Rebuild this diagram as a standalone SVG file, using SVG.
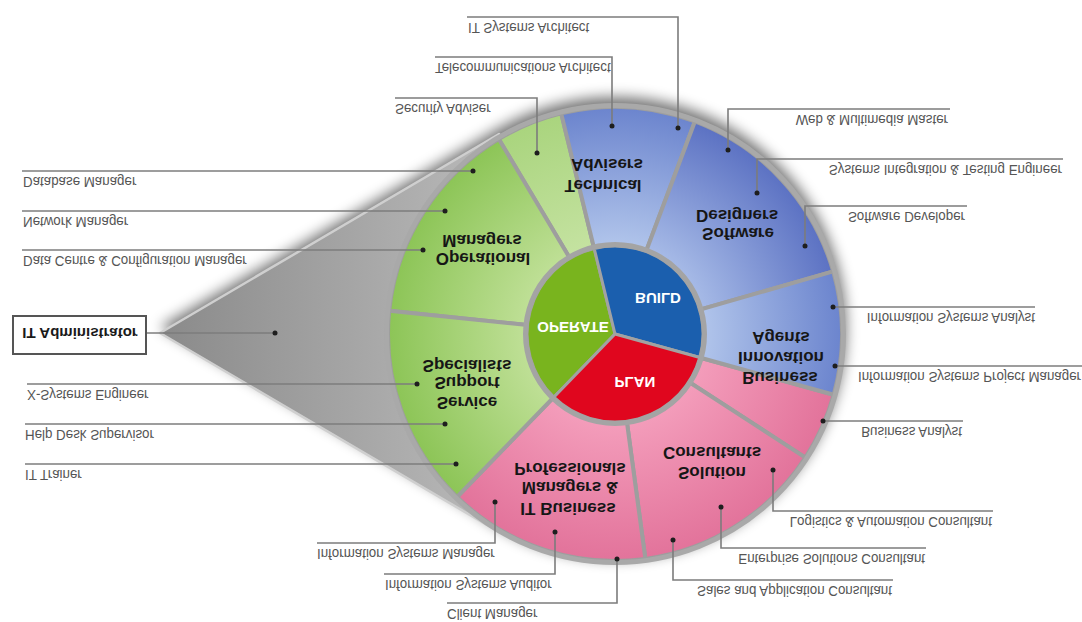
<svg xmlns="http://www.w3.org/2000/svg" width="1082" height="622" viewBox="0 0 1082 622">
  <style>
    .lbl { font-family: "Liberation Sans", Arial, sans-serif; font-size: 14.5px; fill: #555555; }
    .end { text-anchor: end; }
    .seg { font-family: "Liberation Sans", Arial, sans-serif; font-size: 17px; font-weight: bold; fill: #161616; text-anchor: middle; }
    .core { font-family: "Liberation Sans", Arial, sans-serif; font-size: 15px; font-weight: bold; fill: #ffffff; text-anchor: middle; }
    .boxt { font-family: "Liberation Sans", Arial, sans-serif; font-size: 15px; font-weight: bold; fill: #1a1a1a; text-anchor: middle; }
    .lead { stroke: #7c7c7c; stroke-width: 1.6; fill: none; }
    .dot { fill: #1e1e1e; }
    .sector { stroke: #9e9e9e; stroke-width: 4; stroke-linejoin: round; }
    .inner { stroke: #a2a2a2; stroke-width: 3; stroke-linejoin: round; }
  </style>
  <defs>
    <filter id="soft" x="-20%" y="-20%" width="140%" height="140%">
      <feGaussianBlur stdDeviation="7"/>
    </filter>
    <linearGradient id="coneGrad" gradientUnits="userSpaceOnUse" x1="160" y1="0" x2="520" y2="0">
      <stop offset="0" stop-color="#8a8a8a"/>
      <stop offset="1" stop-color="#bdbdbd"/>
    </linearGradient>
    <radialGradient id="green" gradientUnits="userSpaceOnUse" cx="615" cy="334" r="230">
      <stop offset="0.4" stop-color="#bedf95"/>
      <stop offset="1" stop-color="#8bc455"/>
    </radialGradient>
    <radialGradient id="lime" gradientUnits="userSpaceOnUse" cx="615" cy="334" r="230">
      <stop offset="0.4" stop-color="#c4e2a0"/>
      <stop offset="1" stop-color="#a9d47d"/>
    </radialGradient>
    <radialGradient id="blue" gradientUnits="userSpaceOnUse" cx="615" cy="334" r="230">
      <stop offset="0.4" stop-color="#afc3ea"/>
      <stop offset="1" stop-color="#6a83cd"/>
    </radialGradient>
    <radialGradient id="blueDeep" gradientUnits="userSpaceOnUse" cx="615" cy="334" r="230">
      <stop offset="0.4" stop-color="#a5b9e6"/>
      <stop offset="1" stop-color="#5a70c2"/>
    </radialGradient>
    <radialGradient id="pink" gradientUnits="userSpaceOnUse" cx="615" cy="334" r="230">
      <stop offset="0.4" stop-color="#f39cba"/>
      <stop offset="1" stop-color="#e2729a"/>
    </radialGradient>
  </defs>

  <rect width="1082" height="622" fill="#ffffff"/>

  <!-- soft shadow behind wheel and cone -->
  <g transform="translate(0,-6)" filter="url(#soft)" opacity="0.55">
    <polygon points="160,333 499,134 615,334 499,532" fill="#000"/>
    <circle cx="615" cy="334" r="231" fill="#000"/>
  </g>

  <!-- grey cone joining the administrator box to the wheel -->
  <g id="cone">
    <polygon points="160,333 499,134 615,334 499,532" fill="url(#coneGrad)" stroke="#cfcfcf" stroke-width="2.5" stroke-linejoin="round"/>
  </g>

  <!-- outer ring segments (text of each segment drawn over its neighbours) -->
  <g id="security-slice">
    <path class="sector" fill="url(#lime)" d="M615 334 L498.8 139 A227 227 0 0 1 561.2 113.4 Z"/>
  </g>
  <g id="business-analyst-slice">
    <path class="sector" fill="url(#pink)" d="M615 334 L833.7 394.7 A227 227 0 0 1 805.4 457.6 Z"/>
  </g>
  <g id="operational-managers">
    <path class="sector" fill="url(#green)" d="M615 334 L389.2 310.7 A227 227 0 0 1 498.8 139 Z"/>
    <text class="seg" transform="translate(482,235) scale(1,-1)">Managers</text>
    <text class="seg" transform="translate(483,253) scale(1,-1)">Operational</text>
  </g>
  <g id="technical-advisers">
    <path class="sector" fill="url(#blue)" d="M615 334 L561.2 113.4 A227 227 0 0 1 694.9 121.5 Z"/>
    <text class="seg" transform="translate(607,159) scale(1,-1)">Advisers</text>
    <text class="seg" transform="translate(603,180) scale(1,-1)">Technical</text>
  </g>
  <g id="software-designers">
    <path class="sector" fill="url(#blueDeep)" d="M615 334 L694.9 121.5 A227 227 0 0 1 833.2 271.4 Z"/>
    <text class="seg" transform="translate(737,210) scale(1,-1)">Designers</text>
    <text class="seg" transform="translate(738,228) scale(1,-1)">Software</text>
  </g>
  <g id="business-innovation-agents">
    <path class="sector" fill="url(#blue)" d="M615 334 L833.2 271.4 A227 227 0 0 1 833.7 394.7 Z"/>
    <text class="seg" transform="translate(781,332) scale(1,-1)">Agents</text>
    <text class="seg" transform="translate(781,352) scale(1,-1)">Innovation</text>
    <text class="seg" transform="translate(780,372) scale(1,-1)">Business</text>
  </g>
  <g id="solution-consultants">
    <path class="sector" fill="url(#pink)" d="M615 334 L805.4 457.6 A227 227 0 0 1 645.4 559 Z"/>
    <text class="seg" transform="translate(712,447) scale(1,-1)">Consultants</text>
    <text class="seg" transform="translate(712,467) scale(1,-1)">Solution</text>
  </g>
  <g id="it-business-managers">
    <path class="sector" fill="url(#pink)" d="M615 334 L645.4 559 A227 227 0 0 1 457 497 Z"/>
    <text class="seg" transform="translate(570,463) scale(1,-1)">Professionals</text>
    <text class="seg" transform="translate(570,482) scale(1,-1)">Managers &amp;</text>
    <text class="seg" transform="translate(568,503) scale(1,-1)">IT Business</text>
  </g>
  <g id="service-support-specialists">
    <path class="sector" fill="url(#green)" d="M615 334 L457 497 A227 227 0 0 1 389.2 310.7 Z"/>
    <text class="seg" transform="translate(467,360) scale(1,-1)">Specialists</text>
    <text class="seg" transform="translate(467,377) scale(1,-1)">Support</text>
    <text class="seg" transform="translate(467,397) scale(1,-1)">Service</text>
  </g>

  <!-- rim of the wheel -->
  <circle cx="615" cy="334" r="228.5" fill="none" stroke="#a9a9a9" stroke-width="5"/>

  <!-- core: operate / build / plan -->
  <g id="operate">
    <path class="inner" fill="#79b41e" d="M615 334 L553.8 397.2 A88 88 0 0 1 594.2 248.5 Z"/>
    <text class="core" transform="translate(573,322) scale(1,-1)">OPERATE</text>
  </g>
  <g id="build">
    <path class="inner" fill="#1b5fae" d="M615 334 L594.2 248.5 A88 88 0 0 1 699.8 357.5 Z"/>
    <text class="core" transform="translate(658,293) scale(1,-1)">BUILD</text>
  </g>
  <g id="plan">
    <path class="inner" fill="#e0061e" d="M615 334 L699.8 357.5 A88 88 0 0 1 553.8 397.2 Z"/>
    <text class="core" transform="translate(635,377) scale(1,-1)">PLAN</text>
  </g>
  <circle cx="615" cy="334" r="89.5" fill="none" stroke="#a4a4a4" stroke-width="5"/>

  <!-- leader lines -->
  <g id="connectors">
    <line class="lead" x1="146" y1="333" x2="275" y2="333"/>
    <polyline class="lead" points="22,171 473,171"/>
    <polyline class="lead" points="22,211 445,211"/>
    <polyline class="lead" points="22,250 423,250"/>
    <polyline class="lead" points="27,384 417,384"/>
    <polyline class="lead" points="25,424 445,424"/>
    <polyline class="lead" points="25,464 456,464"/>
    <polyline class="lead" points="395,98 537,98 537,153"/>
    <polyline class="lead" points="435,57 612,57 612,126"/>
    <polyline class="lead" points="467,17 678,17 678,128"/>
    <polyline class="lead" points="950,109 728,109 728,150"/>
    <polyline class="lead" points="1063,159 757,159 757,193"/>
    <polyline class="lead" points="967,206 805,206 805,246"/>
    <polyline class="lead" points="833,307 1035,307"/>
    <polyline class="lead" points="835,366 1082,366"/>
    <polyline class="lead" points="823,421 963,421"/>
    <polyline class="lead" points="773,470 773,511 993,511"/>
    <polyline class="lead" points="721,507 721,548 926,548"/>
    <polyline class="lead" points="673,540 673,580 893,580"/>
    <polyline class="lead" points="495,502 495,543 317,543"/>
    <polyline class="lead" points="555,532 555,574 384,574"/>
    <polyline class="lead" points="617,559 617,603 447,603"/>
    <g class="dot">
      <circle cx="275" cy="333" r="2.5"/>
      <circle cx="473" cy="171" r="2.5"/>
      <circle cx="445" cy="211" r="2.5"/>
      <circle cx="423" cy="250" r="2.5"/>
      <circle cx="417" cy="384" r="2.5"/>
      <circle cx="445" cy="424" r="2.5"/>
      <circle cx="456" cy="464" r="2.5"/>
      <circle cx="537" cy="153" r="2.5"/>
      <circle cx="612" cy="126" r="2.5"/>
      <circle cx="678" cy="128" r="2.5"/>
      <circle cx="728" cy="150" r="2.5"/>
      <circle cx="757" cy="193" r="2.5"/>
      <circle cx="805" cy="246" r="2.5"/>
      <circle cx="833" cy="307" r="2.5"/>
      <circle cx="835" cy="366" r="2.5"/>
      <circle cx="823" cy="421" r="2.5"/>
      <circle cx="773" cy="470" r="2.5"/>
      <circle cx="721" cy="507" r="2.5"/>
      <circle cx="673" cy="540" r="2.5"/>
      <circle cx="495" cy="502" r="2.5"/>
      <circle cx="555" cy="532" r="2.5"/>
      <circle cx="617" cy="559" r="2.5"/>
    </g>
  </g>

  <!-- administrator box -->
  <g id="it-administrator">
    <rect x="13" y="316" width="133" height="38" fill="#ffffff" stroke="#555555" stroke-width="2"/>
    <text class="boxt" transform="translate(80,328) scale(1,-1)">IT Administrator</text>
  </g>

  <!-- role labels, set slightly narrow and upside down -->
  <g id="role-labels">
    <text class="lbl" transform="translate(23,177) scale(0.92,-1)">Database Manager</text>
    <text class="lbl" transform="translate(23,217) scale(0.92,-1)">Network Manager</text>
    <text class="lbl" transform="translate(23,256) scale(0.92,-1)">Data Centre &amp; Configuration Manager</text>
    <text class="lbl" transform="translate(27,390) scale(0.92,-1)">X-Systems Engineer</text>
    <text class="lbl" transform="translate(25,430) scale(0.92,-1)">Help Desk Supervisor</text>
    <text class="lbl" transform="translate(25,470) scale(0.92,-1)">IT Trainer</text>
    <text class="lbl" transform="translate(395,104) scale(0.92,-1)">Security Adviser</text>
    <text class="lbl" transform="translate(435,63) scale(0.92,-1)">Telecommunications Architect</text>
    <text class="lbl" transform="translate(468,23) scale(0.92,-1)">IT Systems Architect</text>
    <text class="lbl end" transform="translate(948,115) scale(0.92,-1)">Web &amp; Multimedia Master</text>
    <text class="lbl end" transform="translate(1062,165) scale(0.92,-1)">Systems Integration &amp; Testing Engineer</text>
    <text class="lbl end" transform="translate(965,212) scale(0.92,-1)">Software Developer</text>
    <text class="lbl end" transform="translate(1035,313) scale(0.92,-1)">Information Systems Analyst</text>
    <text class="lbl end" transform="translate(1081,372) scale(0.92,-1)">Information Systems Project Manager</text>
    <text class="lbl end" transform="translate(962,427) scale(0.92,-1)">Business Analyst</text>
    <text class="lbl end" transform="translate(992,517) scale(0.92,-1)">Logistics &amp; Automation Consultant</text>
    <text class="lbl end" transform="translate(925,554) scale(0.92,-1)">Enterprise Solutions Consultant</text>
    <text class="lbl end" transform="translate(892,586) scale(0.92,-1)">Sales and Application Consultant</text>
    <text class="lbl" transform="translate(317,549) scale(0.92,-1)">Information Systems Manager</text>
    <text class="lbl" transform="translate(385,580) scale(0.92,-1)">Information Systems Auditor</text>
    <text class="lbl" transform="translate(447,609) scale(0.92,-1)">Client Manager</text>
  </g>
</svg>
